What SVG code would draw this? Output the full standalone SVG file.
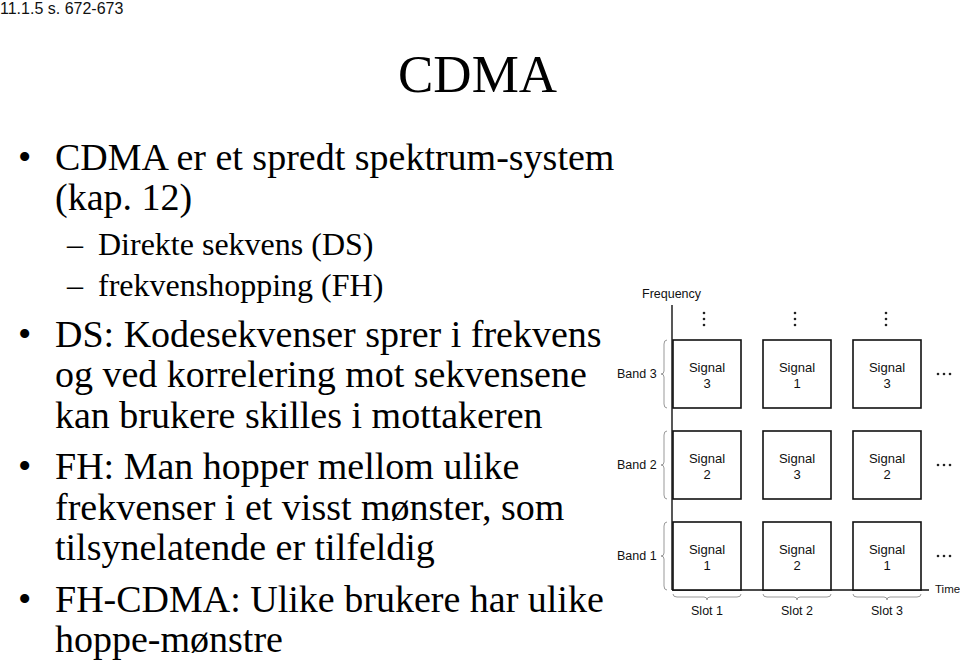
<svg xmlns="http://www.w3.org/2000/svg" width="960" height="663" viewBox="0 0 960 663">
<style>
.ser{font-family:"Liberation Serif","Times New Roman",serif;fill:#000}
.main{font-size:38px}
.sub{font-size:32px}
.sans{font-family:"Liberation Sans",Arial,sans-serif;fill:#111}
.sig{font-size:13px;text-anchor:middle}
.lab{font-size:12.5px}
.box{fill:#fff;stroke:#111;stroke-width:1.6}
.axis{stroke:#111;stroke-width:1.4;fill:none}
.brace{stroke:#999;stroke-width:1;fill:none}
.dot{fill:#222}
</style>
<rect width="960" height="663" fill="#fff"/>
<text x="0" y="14" class="sans" style="font-size:16px">11.1.5 s. 672-673</text>
<text x="398" y="92" class="ser" style="font-size:53px">CDMA</text>

<g id="bullets">
<text x="18" y="170" class="ser main">•</text>
<text x="55" y="170" class="ser main">CDMA er et spredt spektrum-system</text>
<text x="55" y="210" class="ser main">(kap. 12)</text>
<text x="67" y="255" class="ser sub">–</text>
<text x="98" y="255" class="ser sub">Direkte sekvens (DS)</text>
<text x="67" y="296" class="ser sub">–</text>
<text x="98" y="296" class="ser sub">frekvenshopping (FH)</text>
<text x="18" y="347" class="ser main">•</text>
<text x="55" y="347" class="ser main">DS: Kodesekvenser sprer i frekvens</text>
<text x="55" y="387" class="ser main">og ved korrelering mot sekvensene</text>
<text x="55" y="428" class="ser main">kan brukere skilles i mottakeren</text>
<text x="18" y="479" class="ser main">•</text>
<text x="55" y="479" class="ser main">FH: Man hopper mellom ulike</text>
<text x="55" y="520" class="ser main">frekvenser i et visst mønster, som</text>
<text x="55" y="560" class="ser main">tilsynelatende er tilfeldig</text>
<text x="18" y="612" class="ser main">•</text>
<text x="55" y="612" class="ser main">FH-CDMA: Ulike brukere har ulike</text>
<text x="55" y="652" class="ser main">hoppe-mønstre</text>
</g>

<g id="connectors">
<line x1="672" y1="305" x2="672" y2="590" class="axis"/>
<line x1="672" y1="590" x2="929" y2="590" class="axis"/>
<path class="brace" d="M667 340 Q664 340 664 344 L664 371 Q664 374 661 374 Q664 374 664 377 L664 404 Q664 408 667 408"/>
<path class="brace" d="M667 431 Q664 431 664 435 L664 462 Q664 465 661 465 Q664 465 664 468 L664 495 Q664 499 667 499"/>
<path class="brace" d="M667 522 Q664 522 664 526 L664 553 Q664 556 661 556 Q664 556 664 559 L664 586 Q664 590 667 590"/>
<path class="brace" d="M673 594 Q673 597 677 597 L704 597 Q707 597 707 600 Q707 597 710 597 L737 597 Q741 597 741 594"/>
<path class="brace" d="M763 594 Q763 597 767 597 L794 597 Q797 597 797 600 Q797 597 800 597 L827 597 Q831 597 831 594"/>
<path class="brace" d="M853 594 Q853 597 857 597 L884 597 Q887 597 887 600 Q887 597 890 597 L917 597 Q921 597 921 594"/>
</g>

<g id="axis-labels">
<text x="642" y="298" class="sans" style="font-size:12.5px">Frequency</text>
<text x="935" y="593" class="sans" style="font-size:11.5px">Time</text>
<text x="617" y="378" class="sans lab">Band 3</text>
<text x="617" y="469" class="sans lab">Band 2</text>
<text x="617" y="560" class="sans lab">Band 1</text>
<text x="707" y="615" class="sans lab" text-anchor="middle">Slot 1</text>
<text x="797" y="615" class="sans lab" text-anchor="middle">Slot 2</text>
<text x="887" y="615" class="sans lab" text-anchor="middle">Slot 3</text>
</g>

<g id="vdots">
<circle cx="704" cy="313" r="1.3" class="dot"/><circle cx="704" cy="319" r="1.3" class="dot"/><circle cx="704" cy="325" r="1.3" class="dot"/>
<circle cx="795" cy="313" r="1.3" class="dot"/><circle cx="795" cy="319" r="1.3" class="dot"/><circle cx="795" cy="325" r="1.3" class="dot"/>
<circle cx="886" cy="313" r="1.3" class="dot"/><circle cx="886" cy="319" r="1.3" class="dot"/><circle cx="886" cy="325" r="1.3" class="dot"/>
</g>
<g id="hdots">
<circle cx="938" cy="374" r="1.3" class="dot"/><circle cx="944" cy="374" r="1.3" class="dot"/><circle cx="950" cy="374" r="1.3" class="dot"/>
<circle cx="938" cy="465" r="1.3" class="dot"/><circle cx="944" cy="465" r="1.3" class="dot"/><circle cx="950" cy="465" r="1.3" class="dot"/>
<circle cx="938" cy="556" r="1.3" class="dot"/><circle cx="944" cy="556" r="1.3" class="dot"/><circle cx="950" cy="556" r="1.3" class="dot"/>
</g>

<g id="b3s1"><rect x="673" y="340" width="68" height="68" class="box"/><text x="707" y="372" class="sans sig">Signal</text><text x="707" y="388" class="sans sig">3</text></g>
<g id="b3s2"><rect x="763" y="340" width="68" height="68" class="box"/><text x="797" y="372" class="sans sig">Signal</text><text x="797" y="388" class="sans sig">1</text></g>
<g id="b3s3"><rect x="853" y="340" width="68" height="68" class="box"/><text x="887" y="372" class="sans sig">Signal</text><text x="887" y="388" class="sans sig">3</text></g>
<g id="b2s1"><rect x="673" y="431" width="68" height="68" class="box"/><text x="707" y="463" class="sans sig">Signal</text><text x="707" y="479" class="sans sig">2</text></g>
<g id="b2s2"><rect x="763" y="431" width="68" height="68" class="box"/><text x="797" y="463" class="sans sig">Signal</text><text x="797" y="479" class="sans sig">3</text></g>
<g id="b2s3"><rect x="853" y="431" width="68" height="68" class="box"/><text x="887" y="463" class="sans sig">Signal</text><text x="887" y="479" class="sans sig">2</text></g>
<g id="b1s1"><rect x="673" y="522" width="68" height="68" class="box"/><text x="707" y="554" class="sans sig">Signal</text><text x="707" y="570" class="sans sig">1</text></g>
<g id="b1s2"><rect x="763" y="522" width="68" height="68" class="box"/><text x="797" y="554" class="sans sig">Signal</text><text x="797" y="570" class="sans sig">2</text></g>
<g id="b1s3"><rect x="853" y="522" width="68" height="68" class="box"/><text x="887" y="554" class="sans sig">Signal</text><text x="887" y="570" class="sans sig">1</text></g>
</svg>
